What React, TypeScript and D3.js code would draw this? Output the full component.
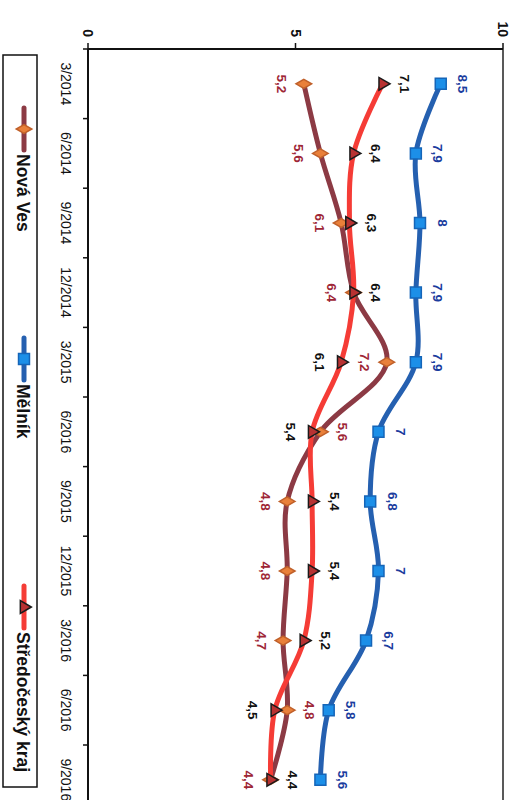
import React from 'react';
import * as d3 from 'd3';

const categories = ['3/2014', '6/2014', '9/2014', '12/2014', '3/2015', '6/2016', '9/2015', '12/2015', '3/2016', '6/2016', '9/2016'];
const novaVes = [5.2, 5.6, 6.1, 6.4, 7.2, 5.6, 4.8, 4.8, 4.7, 4.8, 4.4];
const melnik = [8.5, 7.9, 8, 7.9, 7.9, 7, 6.8, 7, 6.7, 5.8, 5.6];
const stredocesky = [7.1, 6.4, 6.3, 6.4, 6.1, 5.4, 5.4, 5.4, 5.2, 4.5, 4.4];
const valueTicks = [0, 5, 10];
// label placement: 1 = above the point, -1 = below
const novaVesLabelSide = [-1, -1, -1, -1, -1, 1, -1, -1, -1, 1, -1];
const melnikLabelSide = [1, 1, 1, 1, 1, 1, 1, 1, 1, 1, 1];
const stredoceskyLabelSide = [1, 1, 1, 1, -1, -1, 1, 1, 1, -1, 1];

const FONT = '"Liberation Sans", Arial, sans-serif';

export default function App() {
  // chart drawn in landscape frame (800 x 516), then rotated 90° clockwise
  const W = 800;
  const H = 516;
  const x = d3.scaleBand<number>().domain(d3.range(categories.length)).range([49, 49 + 69.6 * 11]).padding(0);
  const y = d3.scaleLinear().domain([0, 10]).range([428, 13]);
  const cx = (i: number) => (x(i) as number) + x.bandwidth() / 2;

  const line = d3
    .line<number>()
    .x((_, i) => cx(i))
    .y((d) => y(d))
    .curve(d3.curveCatmullRom.alpha(0.5));

  const series = [
    {
      name: 'Nová Ves', data: novaVes, side: novaVesLabelSide, line: '#8c3a44', fill: '#e9803a', stroke: '#c0602a',
      symbol: d3.symbolDiamond, size: 70, label: '#9e2636',
    },
    {
      name: 'Mělník', data: melnik, side: melnikLabelSide, line: '#2560b0', fill: '#1c8fe8', stroke: '#1565b8',
      symbol: d3.symbolSquare, size: 120, label: '#1a3c9e',
    },
    {
      name: 'Středočeský kraj', data: stredocesky, side: stredoceskyLabelSide, line: '#f53c36', fill: '#b83232', stroke: '#1a1a1a',
      symbol: d3.symbolTriangle, size: 70, label: '#111111',
    },
  ];

  const legendItems = [
    { s: series[0], u: 108 },
    { s: series[1], u: 338 },
    { s: series[2], u: 586 },
  ];

  const bandEdges = d3.range(categories.length + 1).map((i) => 49 + 69.6 * i);

  return (
    <svg width={516} height={800} style={{ position: 'absolute', left: 0, top: 0, background: '#fff' }}>
      <rect x={0} y={0} width={516} height={800} fill="#fff" />
      <g transform="translate(516,0) rotate(90)" fontFamily={FONT}>
        {/* plot frame top */}
        <line x1={49} x2={W + 20} y1={y(10)} y2={y(10)} stroke="#222" strokeWidth={1.5} />
        {/* value axis */}
        <line x1={49} x2={49} y1={y(0)} y2={y(10)} stroke="#111" strokeWidth={2} />
        {valueTicks.map((t) => (
          <g key={t}>
            <line x1={43} x2={49} y1={y(t)} y2={y(t)} stroke="#111" strokeWidth={1.5} />
            <text x={37} y={y(t)} textAnchor="end" dominantBaseline="central" fontSize={14} fontWeight="bold" fill="#111">
              {t}
            </text>
          </g>
        ))}
        {/* category axis */}
        <line x1={49} x2={W + 20} y1={y(0)} y2={y(0)} stroke="#111" strokeWidth={2} />
        {bandEdges.map((e, i) => (
          <line key={i} x1={e} x2={e} y1={y(0)} y2={y(0) + 5} stroke="#111" strokeWidth={1.5} />
        ))}
        {categories.map((c, i) => (
          <text key={i} x={cx(i)} y={450} textAnchor="middle" dominantBaseline="central" fontSize={14} fill="#111">
            {c}
          </text>
        ))}
        {/* series lines */}
        {series.map((s) => (
          <path key={s.name} d={line(s.data) as string} fill="none" stroke={s.line} strokeWidth={5} strokeLinejoin="round" strokeLinecap="round" />
        ))}
        {/* markers */}
        {series.map((s) =>
          s.data.map((d, i) => (
            <path
              key={s.name + i}
              d={d3.symbol().type(s.symbol).size(s.size)() as string}
              transform={`translate(${cx(i)},${y(d)})`}
              fill={s.fill}
              stroke={s.stroke}
              strokeWidth={1.5}
            />
          ))
        )}
        {/* data labels */}
        {series.map((s) =>
          s.data.map((d, i) => (
            <text
              key={'l' + s.name + i}
              x={cx(i)}
              y={y(d) - s.side[i] * 22}
              textAnchor="middle"
              dominantBaseline="central"
              fontSize={13.5}
              fontWeight="bold"
              fill={s.label}
            >
              {String(d).replace('.', ',')}
            </text>
          ))
        )}
        {/* legend */}
        <rect x={55} y={479} width={732} height={34} fill="#fff" stroke="#111" strokeWidth={1.5} />
        {legendItems.map(({ s, u }) => (
          <g key={s.name}>
            <line x1={u} x2={u + 42} y1={492} y2={492} stroke={s.line} strokeWidth={5} strokeLinecap="round" />
            <path
              d={d3.symbol().type(s.symbol).size(s.size)() as string}
              transform={`translate(${u + 21},492)`}
              fill={s.fill}
              stroke={s.stroke}
              strokeWidth={1.5}
            />
            <text x={u + 46} y={493} dominantBaseline="central" fontSize={17.5} fontWeight="bold" fill="#111">
              {s.name}
            </text>
          </g>
        ))}
      </g>
    </svg>
  );
}
